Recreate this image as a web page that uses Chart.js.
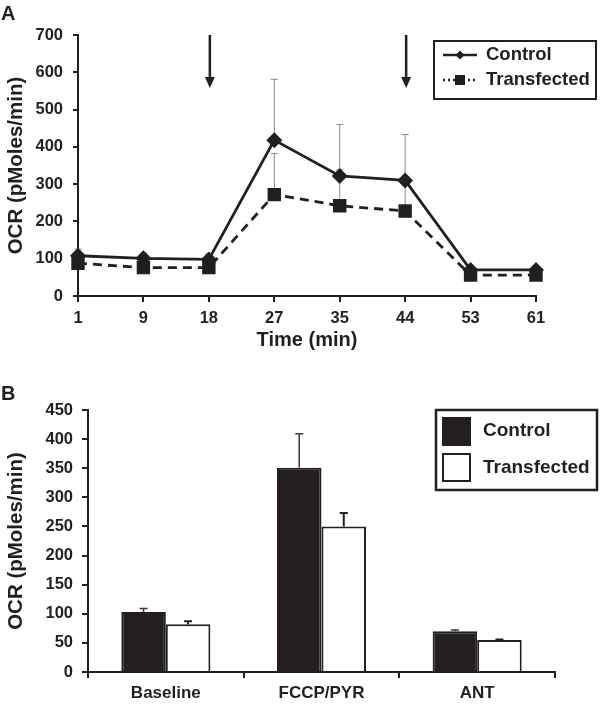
<!DOCTYPE html>
<html>
<head>
<meta charset="utf-8">
<script src="https://cdn.jsdelivr.net/npm/chart.js@4.4.1/dist/chart.umd.min.js"></script>
<style>
  html, body { margin: 0; padding: 0; background: #fff; }
  #wrap { position: relative; width: 600px; height: 704px; }
  canvas { position: absolute; left: 0; }
  #chartA { top: 0; }
  #chartB { top: 352px; }
</style>
</head>
<body>
<div id="wrap">
  <canvas id="chartA" width="600" height="352"></canvas>
  <canvas id="chartB" width="600" height="352"></canvas>
</div>
<script>
// panel A: OCR time course
const timeLabels = ["1", "9", "18", "27", "35", "44", "53", "61"];
const controlOCR = [108, 101, 98, 418, 322, 310, 70, 70];
const controlOCRErr = [18, 14, 15, 163, 138, 123, 6, 6];
const transfectedOCR = [88, 76, 76, 272, 242, 228, 56, 56];
const transfectedOCRErr = [10, 8, 8, 110, 96, 84, 4, 4];
const injectionTimes = ["18", "44"];
const ocrMaxA = 700;
const ocrStepA = 100;

// panel B: summary bars
const phaseLabels = ["Baseline", "FCCP/PYR", "ANT"];
const controlMean = [103, 351, 70];
const controlErr = [6, 58, 2];
const transfectedMean = [82, 250, 55];
const transfectedErr = [5, 23, 1];
const ocrMaxB = 450;
const ocrStepB = 50;

const ink = "#231f20";
const family = '"Liberation Sans", Arial, Helvetica, sans-serif';
Chart.defaults.font.family = family;
Chart.defaults.font.weight = "bold";
Chart.defaults.color = ink;

function errorBarsPlugin(sets, behind) {
  const draw = (chart) => {
    const ctx = chart.ctx;
    const y = chart.scales.y;
    sets.forEach((set, i) => {
      const meta = chart.getDatasetMeta(i);
      const values = chart.data.datasets[i].data;
      ctx.save();
      ctx.strokeStyle = set.color;
      ctx.lineWidth = set.width;
      meta.data.forEach((el, j) => {
        const yBase = y.getPixelForValue(values[j]);
        const yTop = y.getPixelForValue(values[j] + set.errors[j]);
        ctx.beginPath();
        ctx.moveTo(el.x, yBase);
        ctx.lineTo(el.x, yTop);
        ctx.moveTo(el.x - set.cap / 2, yTop);
        ctx.lineTo(el.x + set.cap / 2, yTop);
        ctx.stroke();
      });
      ctx.restore();
    });
  };
  return behind
    ? { id: "errorBarsBehind", beforeDatasetsDraw: draw }
    : { id: "errorBarsFront", afterDatasetsDraw: draw };
}

function panelLetter(letter, baseline) {
  return {
    id: "panelLetter" + letter,
    afterDraw(chart) {
      const ctx = chart.ctx;
      ctx.save();
      ctx.fillStyle = ink;
      ctx.font = "bold 20px " + family;
      ctx.textBaseline = "alphabetic";
      ctx.fillText(letter, 1, baseline);
      ctx.restore();
    },
  };
}

const arrowsPlugin = {
  id: "arrows",
  afterDraw(chart) {
    const ctx = chart.ctx;
    const x = chart.scales.x;
    const y = chart.scales.y;
    const top = y.getPixelForValue(700);
    const tip = y.getPixelForValue(558);
    ctx.save();
    ctx.strokeStyle = ink;
    ctx.fillStyle = ink;
    ctx.lineWidth = 2.5;
    injectionTimes.forEach((t) => {
      const px = x.getPixelForValue(timeLabels.indexOf(t)) + 1;
      ctx.beginPath();
      ctx.moveTo(px, top);
      ctx.lineTo(px, tip - 6);
      ctx.stroke();
      ctx.beginPath();
      ctx.moveTo(px - 5, tip - 11);
      ctx.lineTo(px + 5, tip - 11);
      ctx.lineTo(px, tip);
      ctx.closePath();
      ctx.fill();
    });
    ctx.restore();
  },
};

const legendA = {
  id: "legendA",
  afterDraw(chart) {
    const ctx = chart.ctx;
    ctx.save();
    ctx.strokeStyle = ink;
    ctx.fillStyle = ink;
    ctx.lineWidth = 2;
    ctx.strokeRect(434, 41, 162, 58);

    ctx.lineWidth = 2.5;
    ctx.beginPath();
    ctx.moveTo(443, 55);
    ctx.lineTo(477, 55);
    ctx.stroke();
    ctx.beginPath();
    ctx.moveTo(460, 50.5);
    ctx.lineTo(464.5, 55);
    ctx.lineTo(460, 59.5);
    ctx.lineTo(455.5, 55);
    ctx.closePath();
    ctx.fill();

    ctx.setLineDash([2, 3]);
    ctx.beginPath();
    ctx.moveTo(443, 80);
    ctx.lineTo(477, 80);
    ctx.stroke();
    ctx.setLineDash([]);
    ctx.fillRect(455, 75, 10, 10);

    ctx.font = "bold 18.5px " + family;
    ctx.textBaseline = "middle";
    ctx.fillText("Control", 486, 55);
    ctx.fillText("Transfected", 486, 80);
    ctx.restore();
  },
};

const legendB = {
  id: "legendB",
  afterDraw(chart) {
    const ctx = chart.ctx;
    ctx.save();
    ctx.strokeStyle = ink;
    ctx.fillStyle = ink;
    ctx.lineWidth = 2.5;
    ctx.strokeRect(436, 58, 161, 80);
    ctx.lineWidth = 2;
    ctx.fillRect(442, 65, 29, 29);
    ctx.strokeRect(443, 102, 27, 27);
    ctx.font = "bold 19px " + family;
    ctx.textBaseline = "middle";
    ctx.fillText("Control", 483, 79);
    ctx.fillText("Transfected", 483, 116);
    ctx.restore();
  },
};

function axisStyle(tickLength) {
  return {
    grid: { drawOnChartArea: false, drawTicks: true, tickLength, color: ink, lineWidth: 2 },
    border: { display: true, color: ink, width: 2 },
  };
}

new Chart(document.getElementById("chartA"), {
  type: "line",
  data: {
    labels: timeLabels,
    datasets: [
      {
        label: "Control",
        data: controlOCR,
        borderColor: ink,
        backgroundColor: ink,
        borderWidth: 2.8,
        pointStyle: "rectRot",
        pointRadius: 6,
        pointBackgroundColor: ink,
        pointBorderColor: ink,
        tension: 0,
        clip: false,
      },
      {
        label: "Transfected",
        data: transfectedOCR,
        borderColor: ink,
        backgroundColor: ink,
        borderWidth: 2.8,
        borderDash: [9, 6],
        pointStyle: "rect",
        pointRadius: 7.5,
        pointBackgroundColor: ink,
        pointBorderColor: ink,
        tension: 0,
        clip: false,
      },
    ],
  },
  options: {
    responsive: false,
    animation: false,
    layout: { padding: { top: 35, right: 64, left: 0, bottom: 0 } },
    plugins: { legend: { display: false }, tooltip: { enabled: false } },
    scales: {
      x: {
        offset: false,
        ...axisStyle(6),
        ticks: { color: ink, font: { size: 16.5, weight: "bold" }, padding: 7, autoSkip: false, maxRotation: 0 },
        title: { display: true, text: "Time (min)", color: ink, font: { size: 20, weight: "bold" }, padding: { top: 0, bottom: 0 } },
        afterFit(scale) { scale.height = 56; },
      },
      y: {
        min: 0,
        max: ocrMaxA,
        ...axisStyle(5),
        ticks: { stepSize: ocrStepA, color: ink, font: { size: 16.5, weight: "bold" }, padding: 10 },
        title: { display: true, text: "OCR (pMoles/min)", color: ink, font: { size: 20.5, weight: "bold" }, padding: { top: 4, bottom: 0 } },
        afterFit(scale) { scale.width = 78; },
      },
    },
  },
  plugins: [
    errorBarsPlugin([
      { errors: controlOCRErr, color: "#8a8a8a", width: 1, cap: 7 },
      { errors: transfectedOCRErr, color: "#8a8a8a", width: 1, cap: 7 },
    ], true),
    arrowsPlugin,
    legendA,
    panelLetter("A", 20),
  ],
});

new Chart(document.getElementById("chartB"), {
  type: "bar",
  data: {
    labels: phaseLabels,
    datasets: [
      {
        label: "Control",
        data: controlMean,
        backgroundColor: ink,
        borderColor: ink,
        borderWidth: 2,
        categoryPercentage: 0.572,
        barPercentage: 1,
      },
      {
        label: "Transfected",
        data: transfectedMean,
        backgroundColor: "#ffffff",
        borderColor: ink,
        borderWidth: 2,
        categoryPercentage: 0.572,
        barPercentage: 1,
      },
    ],
  },
  options: {
    responsive: false,
    animation: false,
    layout: { padding: { top: 58, right: 45, left: 0, bottom: 0 } },
    plugins: { legend: { display: false }, tooltip: { enabled: false } },
    scales: {
      x: {
        ...axisStyle(6),
        ticks: { color: ink, font: { size: 17, weight: "bold" }, padding: 5, maxRotation: 0 },
        afterFit(scale) { scale.height = 32; },
      },
      y: {
        min: 0,
        max: ocrMaxB,
        ...axisStyle(6),
        ticks: { stepSize: ocrStepB, color: ink, font: { size: 16.5, weight: "bold" }, padding: 9 },
        title: { display: true, text: "OCR (pMoles/min)", color: ink, font: { size: 20.5, weight: "bold" }, padding: { top: 4, bottom: 0 } },
        afterFit(scale) { scale.width = 88; },
      },
    },
  },
  plugins: [
    errorBarsPlugin([
      { errors: controlErr, color: "#3a3a3a", width: 1.5, cap: 8 },
      { errors: transfectedErr, color: ink, width: 2, cap: 8 },
    ], false),
    legendB,
    panelLetter("B", 48),
  ],
});
</script>
</body>
</html>
